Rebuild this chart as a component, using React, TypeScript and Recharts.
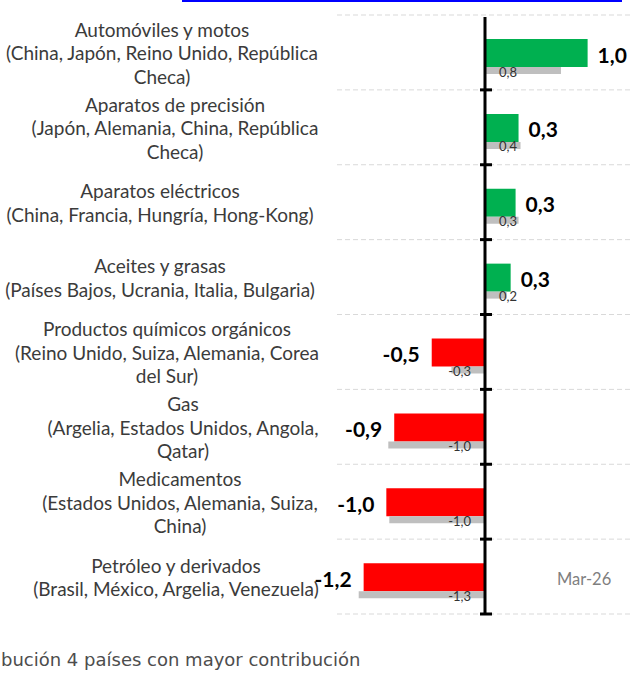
import React from "react";
import {
  Bar,
  BarChart,
  CartesianGrid,
  Cell,
  LabelList,
  Rectangle,
  ReferenceLine,
  XAxis,
  YAxis,
} from "recharts";

// Categories (top to bottom) with their wrapped label lines
const categories = [
  "Automóviles y motos",
  "Aparatos de precisión",
  "Aparatos eléctricos",
  "Aceites y grasas",
  "Productos químicos orgánicos",
  "Gas",
  "Medicamentos",
  "Petróleo y derivados",
];

const labelLines = [
  ["Automóviles y motos", "(China, Japón, Reino Unido, República", "Checa)"],
  ["Aparatos de precisión", "(Japón, Alemania, China, República", "Checa)"],
  ["Aparatos eléctricos", "(China, Francia, Hungría, Hong-Kong)"],
  ["Aceites y grasas", "(Países Bajos, Ucrania, Italia, Bulgaria)"],
  ["Productos químicos orgánicos", "(Reino Unido, Suiza, Alemania, Corea", "del Sur)"],
  ["Gas", "(Argelia, Estados Unidos, Angola,", "Qatar)"],
  ["Medicamentos", "(Estados Unidos, Alemania, Suiza,", "China)"],
  ["Petróleo y derivados", "(Brasil, México, Argelia, Venezuela)"],
];

// Contribution, Mar-26 (coloured bars) and previous period (gray bars)
const mar26 = [1.04, 0.34, 0.31, 0.26, -0.54, -0.92, -1.0, -1.23];
const previous = [0.77, 0.36, 0.34, 0.22, -0.34, -0.98, -0.97, -1.28];

const xTicks = [-1.5, 1.5];

const GREEN = "#00B050";
const RED = "#FF0000";
const GRAY = "#BFBFBF";
const FONT = "Lato, 'Noto Sans', sans-serif";
// horizontal centre of each category's text box (layout only)
const LABEL_CENTERS = [162, 175, 160, 160, 167, 183, 180, 176];
const LINE_H = 23.5;
const BAR_SHIFT = 4;

const data = categories.map((name, i) => ({
  name,
  cur: mar26[i],
  prev: previous[i],
}));

const fmt = (v: number) => v.toFixed(1).replace(".", ",");

function CategoryTick(props: any) {
  const { y, payload } = props;
  const idx = categories.indexOf(payload.value);
  const lines = labelLines[idx] || [payload.value];
  const cx = LABEL_CENTERS[idx] ?? 165;
  const startY = y - ((lines.length - 1) * LINE_H) / 2;
  return (
    <text
      x={cx}
      y={startY}
      textAnchor="middle"
      dominantBaseline="central"
      fill="#3b3b3b"
      fontFamily={FONT}
      fontSize={19}
    >
      {lines.map((l, i) => (
        <tspan key={i} x={cx} dy={i === 0 ? 0 : LINE_H}>
          {l}
        </tspan>
      ))}
    </text>
  );
}

function box(props: any) {
  const vb = props.viewBox && props.viewBox.width !== undefined ? props.viewBox : props;
  const x = Number(vb.x);
  const w = Number(vb.width);
  return {
    left: Math.min(x, x + w),
    right: Math.max(x, x + w),
    midY: Number(vb.y) + Number(vb.height) / 2 + BAR_SHIFT,
  };
}

function ValueLabel(props: any) {
  const v = Number(props.value);
  const { left, right, midY } = box(props);
  const pos = v >= 0;
  return (
    <text
      x={pos ? right + 10 : left - 12}
      y={midY + 1}
      textAnchor={pos ? "start" : "end"}
      dominantBaseline="central"
      fontFamily={FONT}
      fontWeight={700}
      fontSize={21}
      fill="#000"
    >
      {fmt(v)}
    </text>
  );
}

function PrevLabel(props: any) {
  const v = Number(props.value);
  const { left, right, midY } = box(props);
  const pos = v >= 0;
  return (
    <text
      x={pos ? left + 14 : right - 14}
      y={midY + 1}
      textAnchor={pos ? "start" : "end"}
      dominantBaseline="central"
      fontFamily={FONT}
      fontSize={13}
      fill="#333"
    >
      {fmt(v)}
    </text>
  );
}

const shiftedBar = (p: any) => <Rectangle {...p} y={p.y + BAR_SHIFT} />;

function ZeroAxis(props: any) {
  const { x1, y1, y2 } = props;
  const n = categories.length;
  const step = (y2 - y1) / n;
  return (
    <g>
      <line x1={x1} x2={x1} y1={y1} y2={y2 + 2} stroke="#000" strokeWidth={3} />
      {categories.map((_, i) => (
        <line
          key={i}
          x1={x1 - 5}
          x2={x1 + 7}
          y1={y1 + i * step}
          y2={y1 + i * step}
          stroke="#000"
          strokeWidth={3}
        />
      ))}
    </g>
  );
}

const bandEdges = ({ offset }: any) => {
  const n = categories.length;
  return Array.from({ length: n + 1 }, (_, i) => offset.top + (i * offset.height) / n);
};

export default function App() {
  return (
    <div style={{ position: "absolute", left: 0, top: 0, width: 642, height: 673, background: "#fff" }}>
      <div style={{ position: "absolute", left: 182, top: 0, width: 440, height: 2, background: "#0000FF" }} />
      <BarChart
        width={642}
        height={673}
        data={data}
        layout="vertical"
        margin={{ top: 15, right: 9, bottom: 59, left: 0 }}
        barGap={0}
      >
        <CartesianGrid
          horizontal
          vertical={false}
          stroke="#D9D9D9"
          strokeDasharray="5 3"
          horizontalCoordinatesGenerator={bandEdges}
        />
        <XAxis type="number" domain={[xTicks[0], xTicks[1]]} hide />
        <YAxis
          type="category"
          dataKey="name"
          width={337}
          interval={0}
          tickLine={false}
          axisLine={false}
          tick={<CategoryTick />}
        />
        <Bar dataKey="cur" barSize={28} isAnimationActive={false} shape={shiftedBar}>
          {data.map((d, i) => (
            <Cell key={i} fill={d.cur >= 0 ? GREEN : RED} />
          ))}
          <LabelList dataKey="cur" content={<ValueLabel />} />
        </Bar>
        <Bar dataKey="prev" barSize={7} fill={GRAY} isAnimationActive={false} shape={shiftedBar}>
          <LabelList dataKey="prev" content={<PrevLabel />} />
        </Bar>
        <ReferenceLine x={0} shape={(p: any) => <ZeroAxis {...p} />} />
      </BarChart>
      <div
        style={{
          position: "absolute",
          left: 557,
          top: 569,
          fontFamily: FONT,
          fontSize: 16.5,
          color: "#7f7f7f",
        }}
      >
        Mar-26
      </div>
      <div
        style={{
          position: "absolute",
          left: 1,
          top: 649,
          fontFamily: "'DejaVu Sans', sans-serif",
          fontSize: 18,
          color: "#4d4d4d",
          whiteSpace: "nowrap",
        }}
      >
        bución 4 países con mayor contribución
      </div>
    </div>
  );
}
